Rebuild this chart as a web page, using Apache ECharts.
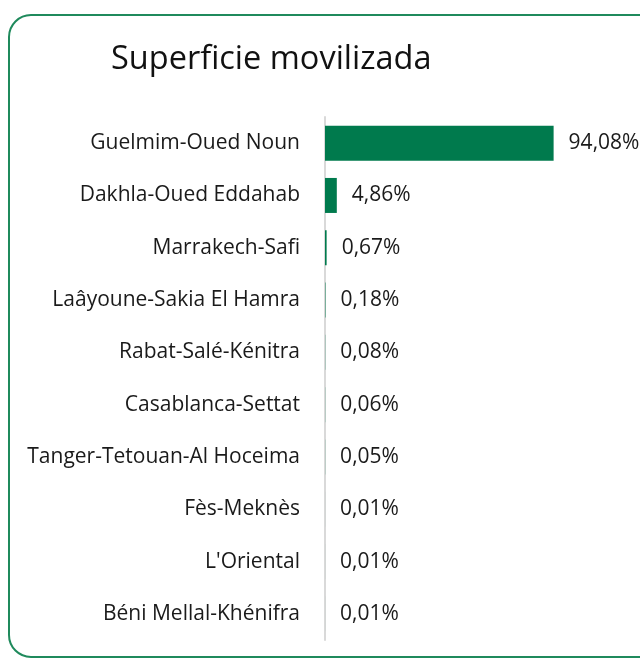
<!DOCTYPE html>
<html>
<head>
<meta charset="utf-8">
<script src="https://cdn.jsdelivr.net/npm/echarts@6/dist/echarts.min.js"></script>
<style>
	html, body { margin: 0; padding: 0; background: #fff; }
	#chart { width: 640px; height: 660px; }
</style>
</head>
<body>
<div id="chart"></div>
<script>
const regiones = [
	'Guelmim-Oued Noun',
	'Dakhla-Oued Eddahab',
	'Marrakech-Safi',
	'Laâyoune-Sakia El Hamra',
	'Rabat-Salé-Kénitra',
	'Casablanca-Settat',
	'Tanger-Tetouan-Al Hoceima',
	'Fès-Meknès',
	"L'Oriental",
	'Béni Mellal-Khénifra'
]
const superficie = [94.08, 4.86, 0.67, 0.18, 0.08, 0.06, 0.05, 0.01, 0.01, 0.01]

const fontFam = '"Open Sans", "Noto Sans", sans-serif'

let myChart = echarts.init(document.getElementById('chart'))
let option = {
	backgroundColor: '#fff',
	title: {
		text: 'Superficie movilizada',
		left: 106,
		top: 38,
		textStyle: {
			fontFamily: fontFam,
			fontWeight: 'normal',
			fontSize: 32.5,
			color: '#111'
		}
	},
	graphic: [{
		type: 'rect',
		shape: { x: 9, y: 15, width: 660, height: 642, r: 22 },
		style: { fill: 'none', stroke: '#1f8a5c', lineWidth: 2 },
		z: 100
	}],
	grid: {
		left: 325,
		top: 117,
		width: 243,
		height: 523
	},
	xAxis: {
		type: 'value',
		min: 0,
		max: 100,
		show: false
	},
	yAxis: {
		type: 'category',
		data: regiones,
		inverse: true,
		axisTick: { show: false },
		axisLine: {
			show: true,
			lineStyle: { color: '#d9d9d9', width: 2 }
		},
		axisLabel: {
			margin: 25,
			fontFamily: fontFam,
			fontSize: 21,
			color: '#1a1a1a'
		}
	},
	series: [{
		type: 'bar',
		data: superficie,
		barWidth: 35,
		itemStyle: { color: '#007a4d' },
		label: {
			show: true,
			position: 'right',
			distance: 15,
			fontFamily: fontFam,
			fontSize: 21,
			color: '#1a1a1a',
			formatter: function(p) {
				return p.value.toFixed(2).replace('.', ',') + '%'
			}
		}
	}]
}
myChart.setOption(option)
</script>
</body>
</html>
